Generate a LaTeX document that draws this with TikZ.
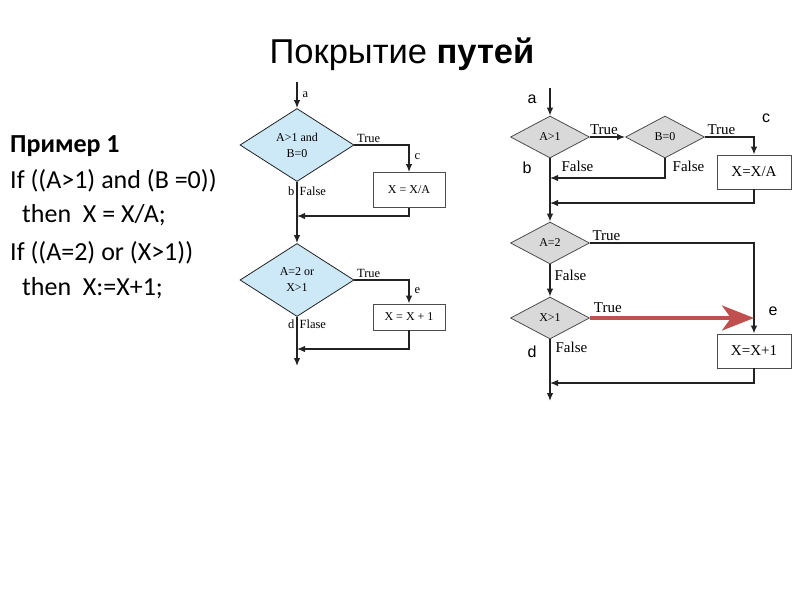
\documentclass[tikz,border=0pt]{standalone}
\usepackage{fontspec}
\setmainfont{Liberation Serif}
\newfontfamily\titlefont{Liberation Sans}
\newfontfamily\codefont{Carlito}
\usetikzlibrary{shapes.geometric,arrows.meta}
\definecolor{diablue}{HTML}{CDE8F6}
\definecolor{diagray}{HTML}{D9D9D9}
\definecolor{pathred}{HTML}{C0504D}
\definecolor{flowline}{HTML}{222222}
\tikzset{
    flow/.style={draw=flowline, line width=1.3pt},
    ldia/.style={diamond, draw=flowline, line width=0.8pt, fill=diablue, aspect=1.5, inner sep=0pt,
        minimum width=114pt, minimum height=73pt, align=center, font=\fontsize{12}{16}\selectfont},
    rdia/.style={diamond, draw=black!70, line width=0.8pt, fill=diagray, aspect=1.8, inner sep=0pt,
        minimum width=79pt, minimum height=42pt, font=\fontsize{12}{14}\selectfont},
    lbox/.style={rectangle, draw=black!70, line width=0.8pt, fill=white, minimum width=72pt,
        font=\fontsize{12}{14}\selectfont},
    rbox/.style={rectangle, draw=black!70, line width=0.8pt, fill=white, minimum width=74pt,
        minimum height=34pt, font=\fontsize{15}{17}\selectfont},
    llab/.style={font=\fontsize{12.5}{14}\selectfont, inner sep=2pt},
    rlab/.style={font=\fontsize{15}{17}\selectfont, inner sep=2pt},
    letter/.style={font=\titlefont\fontsize{16}{18}\selectfont},
    codeline/.style={anchor=base west, inner sep=0pt, font=\codefont\fontsize{26}{30}\selectfont},
    >={Latex[length=8pt,width=6.5pt]}
}
\begin{document}
\begin{tikzpicture}[x=1pt, y=-1pt]
            \useasboundingbox (0, 0) rectangle (800, 600);
            \node[anchor=base, font=\titlefont\fontsize{34.5}{38}\selectfont] (title) at (402, 63)
                {Покрытие \textbf{путей}};

            \node[codeline] (code1) at (10, 152) {\textbf{Пример 1}};
            \node[codeline] (code2) at (10, 188) {If ((A>1) and (B =0))};
            \node[codeline] (code3) at (22, 222) {then\ \ X = X/A;};
            \node[codeline] (code4) at (10, 260) {If ((A=2) or (X>1))};
            \node[codeline] (code5) at (22, 295) {then\ \ X:=X+1;};

            \coordinate (la) at (297, 82);
            \node[ldia] (lc1) at (297, 145) {A>1 and\\B=0};
            \node[lbox, minimum height=35pt] (lb1) at (409, 190) {X = X/A};
            \coordinate (lj1) at (297, 216);
            \node[ldia] (lc2) at (297, 280) {A=2 or\\X>1};
            \node[lbox, minimum height=26pt] (lb2) at (409, 317) {X = X + 1};
            \coordinate (lj2) at (297, 349);
            \coordinate (lend) at (297, 366);

            \draw[flow, ->] (la) -- node[llab, right=3pt] {a} (lc1.north);
            \draw[flow, ->] (lc1.east) -| node[llab, above right, pos=0] {True}
                node[llab, right=3pt, pos=0.72] {c} (lb1.north);
            \draw[flow, ->] (lb1.south) |- (lj1);
            \draw[flow, ->] (lc1.south) -- node[llab, below left, pos=0, yshift=-2pt] {b}
                node[llab, below right, pos=0, yshift=-2pt] {False} (lc2.north);
            \draw[flow, ->] (lc2.east) -| node[llab, above right, pos=0] {True}
                node[llab, right=3pt, pos=0.72] {e} (lb2.north);
            \draw[flow, ->] (lb2.south) |- (lj2);
            \draw[flow, ->] (lc2.south) -- node[llab, below left, pos=0] {d}
                node[llab, below right, pos=0] {Flase} (lend);

            \coordinate (ra) at (550, 88);
            \node[rdia] (rc1) at (550, 137) {A>1};
            \node[rdia] (rc2) at (665, 137) {B=0};
            \node[rbox] (rb1) at (754, 172) {X=X/A};
            \coordinate (rj1) at (550, 178);
            \coordinate (rj2) at (550, 203);
            \node[rdia] (rc3) at (550, 243) {A=2};
            \node[rdia] (rc4) at (550, 318) {X>1};
            \coordinate (re) at (754, 318);
            \node[rbox] (rb2) at (754, 351) {X=X+1};
            \coordinate (rj3) at (550, 383);
            \coordinate (rend) at (550, 401);

            \node[letter] at (532, 99) {a};
            \node[letter] at (527, 168) {b};
            \node[letter] at (766, 118) {c};
            \node[letter] at (532, 352) {d};
            \node[letter] at (773, 311) {e};

            \draw[flow, ->] (ra) -- (rc1.north);
            \draw[flow, ->] (rc1.east) -- node[rlab, above, pos=0.4] {True} (rc2.west);
            \draw[flow, ->] (rc2.east) -| node[rlab, above right, pos=0] {True} (rb1.north);
            \draw[flow, ->] (rc2.south) |- node[rlab, below right, pos=0, xshift=5pt] {False} (rj1);
            \draw[flow, ->] (rb1.south) |- (rj2);
            \draw[flow, ->] (rc1.south) -- node[rlab, below right, pos=0, xshift=9pt] {False} (rc3.north);
            \draw[flow, ->] (rc3.east) -| node[rlab, above right, pos=0] {True} (rb2.north);
            \draw[flow, ->] (rc3.south) -- node[rlab, right=2pt, pos=0.35] {False} (rc4.north);
            \draw[flow, ->] (rb2.south) |- (rj3);
            \draw[flow, ->] (rc4.south) -- node[rlab, below right, pos=0, xshift=3pt] {False} (rend);
            \draw[draw=pathred, line width=4pt, -{Stealth[length=32pt, width=25pt, inset=9pt]}]
                (rc4.east) -- node[rlab, above right, pos=0, yshift=1pt] {True} (re);
        \end{tikzpicture}
\end{document}
